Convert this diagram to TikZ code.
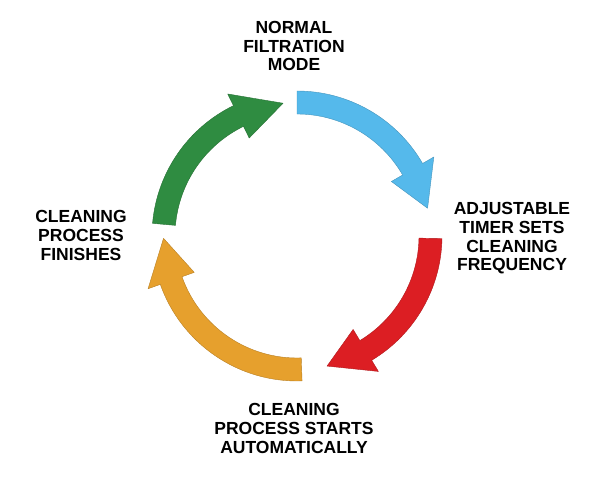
\documentclass[tikz,border=0pt]{standalone}
\usepackage{fontspec}
\setmainfont{Liberation Sans}
\definecolor{cgreen}{HTML}{2F8C41}
\definecolor{cblue}{HTML}{55B9EB}
\definecolor{cred}{HTML}{DC1E23}
\definecolor{corange}{HTML}{E6A02D}
\begin{document}
\begin{tikzpicture}[x=1pt,y=1pt, line join=round,
	lbl/.style={align=center, inner sep=0pt, font=\bfseries\fontsize{17.5}{18.6}\selectfont},
	cyc/.style={fill=#1, draw=#1!80!black, line width=.4pt}]
	\useasboundingbox (0,0) rectangle (590,480);
	% centre and radii of the cycle
	\def\cx{297} \def\cy{244}
	\def\rin{122pt} \def\rout{145pt} \def\rmid{133.5pt}
	\def\hin{109pt} \def\hout{158pt}
	% arrows: tail / head base / tip / colour
	\begin{scope}[shift={(\cx,\cy)}]
		\foreach \a/\b/\t/\c in {90/30/12/cblue, -1/-59/-77/cred, -88/-160.5/-179/corange, 175/116/96/cgreen}{
			\path[cyc=\c] (\a:\rout) arc[start angle=\a, end angle=\b, radius=\rout]
				-- (\b:\hout) -- (\t:\rmid) -- (\b:\hin)
				-- (\b:\rin) arc[start angle=\b, end angle=\a, radius=\rin] -- cycle;
		}
	\end{scope}
	% labels
	\node[lbl] (normal) at (294,434) {NORMAL\\FILTRATION\\MODE};
	\node[lbl] (timer) at (512,241.5) {ADJUSTABLE\\TIMER SETS\\CLEANING\\FREQUENCY};
	\node[lbl] (starts) at (294,51.5) {CLEANING\\PROCESS STARTS\\AUTOMATICALLY};
	\node[lbl] (finish) at (81,244.5) {CLEANING\\PROCESS\\FINISHES};
\end{tikzpicture}
\end{document}
